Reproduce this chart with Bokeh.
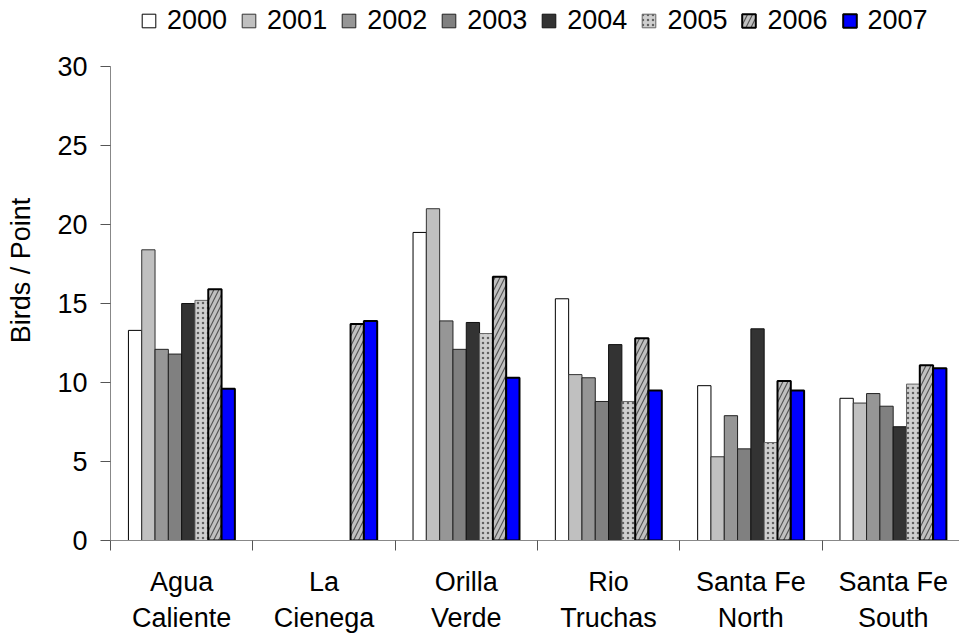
from bokeh.plotting import figure
from bokeh.models import (Range1d, FixedTicker, CustomJSTickFormatter, Legend, LegendItem,
                          ColumnDataSource)
from bokeh.embed import file_html
from bokeh.resources import INLINE

sites = ["Agua\nCaliente", "La\nCienega", "Orilla\nVerde", "Rio\nTruchas",
         "Santa Fe\nNorth", "Santa Fe\nSouth"]
years = ["2000", "2001", "2002", "2003", "2004", "2005", "2006", "2007"]
y_ticks = [0, 5, 10, 15, 20, 25, 30]

# Birds per point, per site (None = not surveyed)
v2000 = [13.3, None, 19.5, 15.3, 9.8, 9.0]
v2001 = [18.4, None, 21.0, 10.5, 5.3, 8.7]
v2002 = [12.1, None, 13.9, 10.3, 7.9, 9.3]
v2003 = [11.8, None, 12.1, 8.8, 5.8, 8.5]
v2004 = [15.0, None, 13.8, 12.4, 13.4, 7.2]
v2005 = [15.2, None, 13.1, 8.8, 6.2, 9.9]
v2006 = [15.9, 13.7, 16.7, 12.8, 10.1, 11.1]
v2007 = [9.6, 13.9, 10.3, 9.5, 9.5, 10.9]
series = [v2000, v2001, v2002, v2003, v2004, v2005, v2006, v2007]

styles = [
    dict(fill_color="#ffffff", line_color="#000000", line_width=1),
    dict(fill_color="#c0c0c0", line_color="#333333", line_width=1),
    dict(fill_color="#969696", line_color="#222222", line_width=1),
    dict(fill_color="#808080", line_color="#222222", line_width=1),
    dict(fill_color="#333333", line_color="#111111", line_width=1),
    dict(fill_color="#cfcfcf", line_color="#666666", line_width=1,
         hatch_pattern="dot", hatch_color="#555555", hatch_scale=5, hatch_weight=2.5, hatch_alpha=0.9),
    dict(fill_color="#c0c0c0", line_color="#000000", line_width=2,
         hatch_pattern="right_diagonal_line", hatch_color="#555555", hatch_scale=10, hatch_weight=1.2),
    dict(fill_color="#0000ff", line_color="#000000", line_width=2),
]

FONT = "Liberation Sans"
FS = "27px"
bar_w = 0.0935

p = figure(width=959, height=637, output_backend="svg", toolbar_location=None,
           x_range=Range1d(0, 5.966), y_range=Range1d(0, 34.18),
           min_border_left=110, min_border_right=0, min_border_bottom=97, min_border_top=0)
p.outline_line_color = None
p.xgrid.grid_line_color = None
p.ygrid.grid_line_color = None
p.background_fill_color = "white"
p.border_fill_color = "white"

items = []
for j, (yr, vals, st) in enumerate(zip(years, series, styles)):
    xs, tops = [], []
    for i, v in enumerate(vals):
        if v is None:
            continue
        xs.append(i + 0.5 + (j - 3.5) * bar_w)
        tops.append(v)
    src = ColumnDataSource(dict(x=xs, top=tops))
    r = p.vbar(x="x", top="top", bottom=0, width=bar_w, source=src, **st)
    items.append(LegendItem(label=yr, renderers=[r]))

# axes
centers = [i + 0.5 for i in range(len(sites))]
bounds = [float(i) for i in range(len(sites) + 1)]
xa = p.xaxis[0]
xa.ticker = FixedTicker(ticks=centers, minor_ticks=bounds)
xa.formatter = CustomJSTickFormatter(args=dict(labels=sites),
                                     code="return labels[Math.round(tick - 0.5)];")
xa.major_tick_line_color = None
xa.major_tick_out = 0
xa.major_tick_in = 0
xa.minor_tick_out = 10
xa.minor_tick_in = 0
xa.minor_tick_line_color = "#555555"
xa.axis_line_color = "#888888"
xa.major_label_text_font = FONT
xa.major_label_text_font_size = FS
xa.major_label_text_color = "#000000"
xa.major_label_standoff = 16

ya = p.yaxis[0]
ya.ticker = FixedTicker(ticks=y_ticks, minor_ticks=[])
ya.bounds = (0, 30)
ya.axis_line_color = "#888888"
ya.major_tick_line_color = "#555555"
ya.major_tick_out = 10
ya.major_tick_in = 0
ya.minor_tick_line_color = None
ya.major_label_text_font = FONT
ya.major_label_text_font_size = FS
ya.major_label_text_color = "#000000"
ya.major_label_standoff = 13
ya.axis_label = "Birds / Point"
ya.axis_label_text_font = FONT
ya.axis_label_text_font_size = FS
ya.axis_label_text_font_style = "normal"
ya.axis_label_text_color = "#000000"
ya.axis_label_standoff = 18

legend = Legend(items=items, orientation="horizontal", location=(30, 504),
                label_text_font=FONT, label_text_font_size=FS, label_text_color="#000000",
                glyph_width=17, glyph_height=17, label_standoff=10, spacing=13,
                padding=0, margin=0, border_line_color=None, background_fill_alpha=0)
p.add_layout(legend, "center")

open("out.html", "w").write(file_html(p, INLINE))
